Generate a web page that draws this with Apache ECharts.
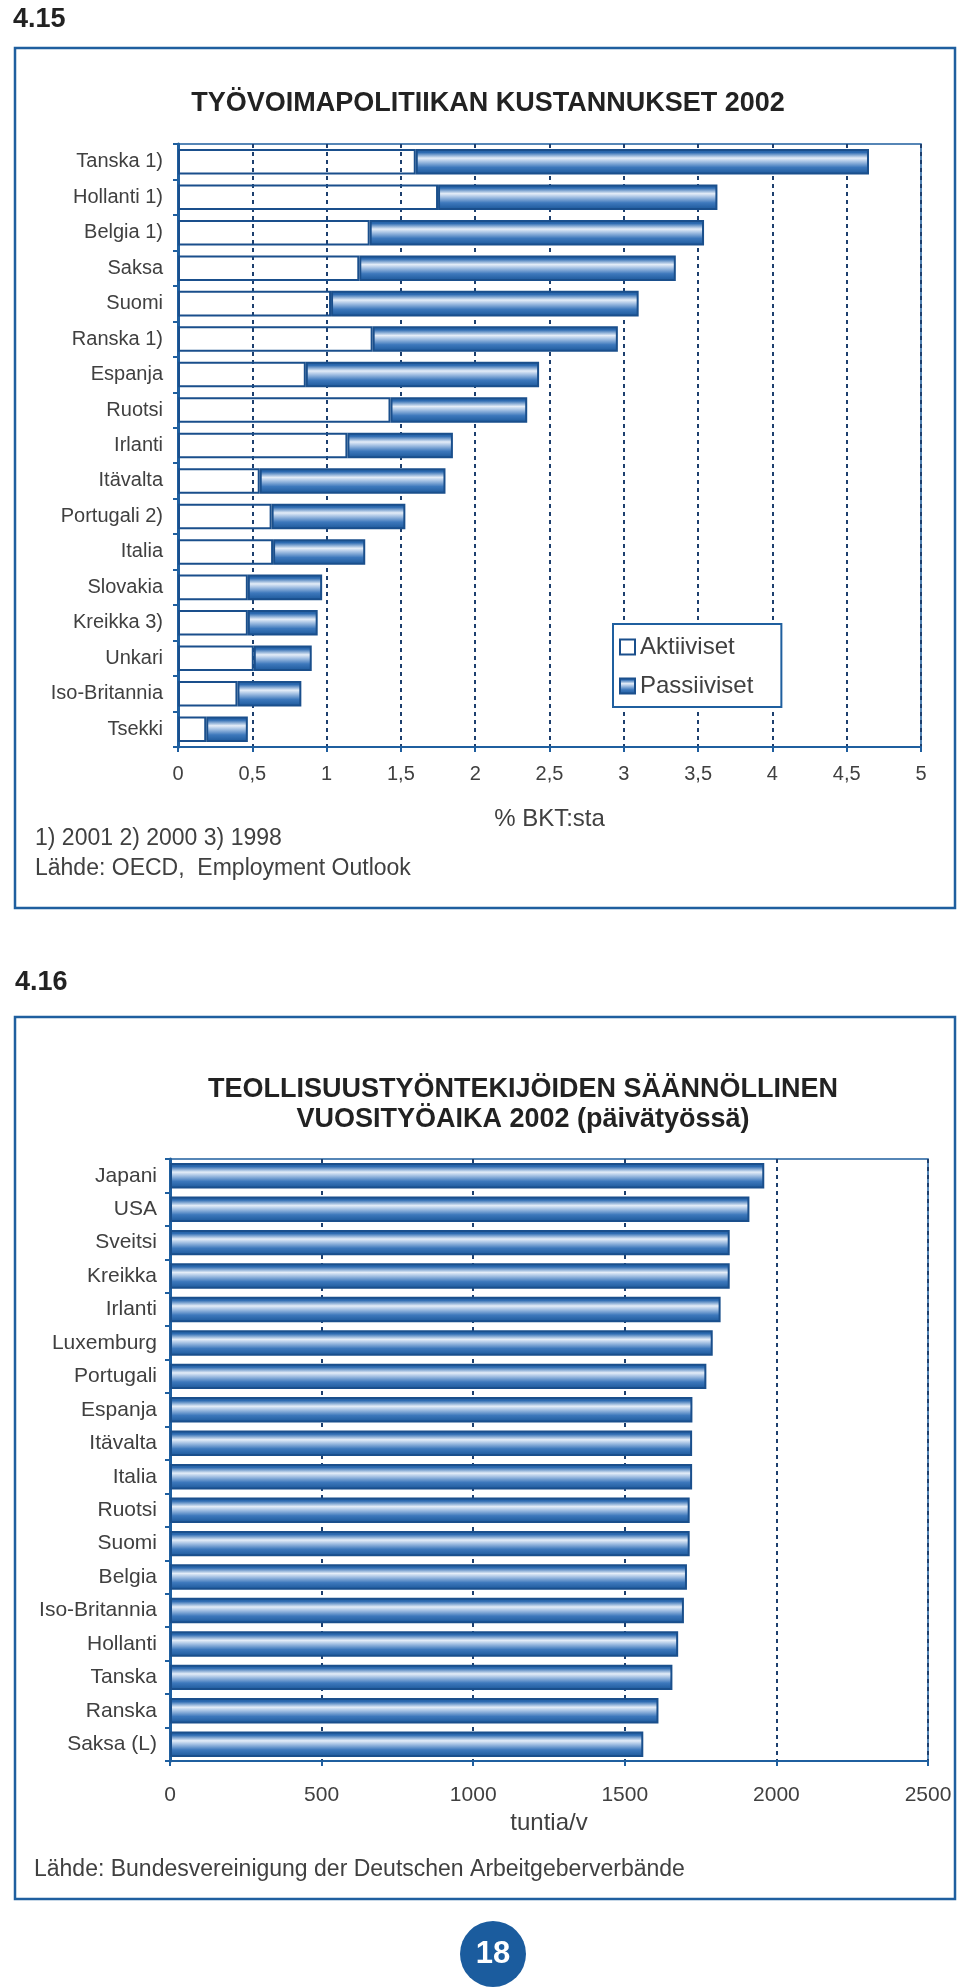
<!DOCTYPE html>
<html>
<head>
<meta charset="utf-8">
<script src="https://cdn.jsdelivr.net/npm/echarts@6/dist/echarts.min.js"></script>
<style>
html,body{margin:0;padding:0;background:#fff;}
#c{width:960px;height:1988px;}
</style>
</head>
<body>
<div id="c"></div>
<script>
// ---- Chart 4.15 data ----
const cats1 = ['Tanska 1)','Hollanti 1)','Belgia 1)','Saksa','Suomi','Ranska 1)','Espanja','Ruotsi','Irlanti','Itävalta','Portugali 2)','Italia','Slovakia','Kreikka 3)','Unkari','Iso-Britannia','Tsekki'];
const aktiiviset = [1.60,1.75,1.29,1.22,1.03,1.31,0.86,1.43,1.14,0.55,0.63,0.64,0.47,0.47,0.51,0.40,0.19];
const passiiviset = [3.05,1.88,2.25,2.13,2.07,1.65,1.57,0.92,0.71,1.25,0.90,0.62,0.50,0.47,0.39,0.43,0.28];
const ticks1 = ['0','0,5','1','1,5','2','2,5','3','3,5','4','4,5','5'];

// ---- Chart 4.16 data ----
const cats2 = ['Japani','USA','Sveitsi','Kreikka','Irlanti','Luxemburg','Portugali','Espanja','Itävalta','Italia','Ruotsi','Suomi','Belgia','Iso-Britannia','Hollanti','Tanska','Ranska','Saksa (L)'];
const tunnit = [1960,1911,1846,1846,1816,1790,1769,1723,1722,1722,1714,1714,1705,1695,1676,1657,1611,1561];
const ticks2 = ['0','500','1000','1500','2000','2500'];

const FONT = '"Liberation Sans", Arial, sans-serif';
const BLUE = '#1f5f9f';
const DARK = '#1a4f8c';
const GRIDC = '#1d3f6e';
const TXT = '#404040';

function barGrad(){
  return new echarts.graphic.LinearGradient(0,0,0,1,[
    {offset:0, color:'#1a5698'},
    {offset:0.14, color:'#2f6cb2'},
    {offset:0.36, color:'#e4edf8'},
    {offset:0.5, color:'#a3c0e3'},
    {offset:0.72, color:'#3d78bc'},
    {offset:1, color:'#1a5698'}
  ]);
}

const chart = echarts.init(document.getElementById('c'), null, {renderer:'canvas'});

const option = {
  animation:false,
  backgroundColor:'#fff',
  textStyle:{fontFamily:FONT},
  title:[
    {text:'4.15', left:8, top:1, textStyle:{fontFamily:FONT, fontSize:27, fontWeight:'bold', color:'#222'}},
    {text:'TYÖVOIMAPOLITIIKAN KUSTANNUKSET 2002', left:483, textAlign:'center', top:85, textStyle:{fontFamily:FONT, fontSize:27, fontWeight:'bold', color:'#222'}},
    {text:'4.16', left:10, top:964, textStyle:{fontFamily:FONT, fontSize:27, fontWeight:'bold', color:'#222'}},
    {text:'TEOLLISUUSTYÖNTEKIJÖIDEN SÄÄNNÖLLINEN\nVUOSITYÖAIKA 2002 (päivätyössä)', left:518, textAlign:'center', top:1070, textStyle:{fontFamily:FONT, fontSize:27, fontWeight:'bold', color:'#222', lineHeight:30, align:'center'}}
  ],
  legend:{
    data:[{name:'Aktiiviset', icon:'rect'},{name:'Passiiviset', icon:'rect'}],
    orient:'vertical',
    left:613, top:624,
    backgroundColor:'#fff',
    borderColor:BLUE, borderWidth:2,
    padding:[11,28,9,6],
    itemWidth:15, itemHeight:15, itemGap:15,
    textStyle:{fontFamily:FONT, fontSize:24, color:TXT}
  },
  grid:[
    {left:178, top:144, width:743, height:603, show:true, borderColor:BLUE, borderWidth:1.5, backgroundColor:'transparent'},
    {left:170, top:1159, width:758, height:602, show:true, borderColor:BLUE, borderWidth:1.5, backgroundColor:'transparent'}
  ],
  xAxis:[
    {type:'value', gridIndex:0, min:0, max:5, interval:0.5,
      name:'% BKT:sta', nameLocation:'middle', nameGap:60,
      nameTextStyle:{fontFamily:FONT, fontSize:24, color:TXT},
      axisLine:{show:true, lineStyle:{color:BLUE, width:2}},
      axisTick:{show:true, inside:false, length:5, lineStyle:{color:BLUE, width:2}},
      axisLabel:{margin:17, fontFamily:FONT, fontSize:20, color:TXT, formatter:(v)=>ticks1[Math.round(v/0.5)]},
      splitLine:{show:true, lineStyle:{color:GRIDC, width:2, type:[4,4]}}
    },
    {type:'value', gridIndex:1, min:0, max:2500, interval:500,
      name:'tuntia/v', nameLocation:'middle', nameGap:50,
      nameTextStyle:{fontFamily:FONT, fontSize:24, color:TXT},
      axisLine:{show:true, lineStyle:{color:BLUE, width:2}},
      axisTick:{show:true, inside:false, length:5, lineStyle:{color:BLUE, width:2}},
      axisLabel:{margin:24, fontFamily:FONT, fontSize:21, color:TXT, formatter:(v)=>ticks2[Math.round(v/500)]},
      splitLine:{show:true, lineStyle:{color:GRIDC, width:2, type:[4,4]}}
    }
  ],
  yAxis:[
    {type:'category', gridIndex:0, data:cats1, inverse:true,
      axisLine:{show:true, lineStyle:{color:BLUE, width:3}},
      axisTick:{show:true, inside:false, length:5, lineStyle:{color:BLUE, width:2}},
      axisLabel:{margin:15, fontFamily:FONT, fontSize:20, color:TXT}
    },
    {type:'category', gridIndex:1, data:cats2, inverse:true,
      axisLine:{show:true, lineStyle:{color:BLUE, width:3}},
      axisTick:{show:true, inside:false, length:5, lineStyle:{color:BLUE, width:2}},
      axisLabel:{margin:13, fontFamily:FONT, fontSize:21, color:TXT}
    }
  ],
  series:[
    {name:'Aktiiviset', type:'bar', stack:'k', xAxisIndex:0, yAxisIndex:0, data:aktiiviset, barWidth:'72%',
      itemStyle:{color:'rgba(255,255,255,0)', borderColor:DARK, borderWidth:2}},
    {name:'Passiiviset', type:'bar', stack:'k', xAxisIndex:0, yAxisIndex:0, data:passiiviset, barWidth:'72%',
      itemStyle:{color:barGrad(), borderColor:DARK, borderWidth:2}},
    {name:'Tunnit', type:'bar', xAxisIndex:1, yAxisIndex:1, data:tunnit, barWidth:'76%',
      itemStyle:{color:barGrad(), borderColor:DARK, borderWidth:2}}
  ],
  graphic:[
    {type:'rect', shape:{x:15, y:48, width:940, height:860}, style:{fill:null, stroke:BLUE, lineWidth:2.5}, silent:true},
    {type:'rect', shape:{x:15, y:1017, width:940, height:882}, style:{fill:null, stroke:BLUE, lineWidth:2.5}, silent:true},
    {type:'text', left:35, top:827, style:{text:'1) 2001 2) 2000 3) 1998', font:'23px "Liberation Sans", Arial, sans-serif', fill:TXT}},
    {type:'text', left:35, top:857, style:{text:'Lähde: OECD,  Employment Outlook', font:'23px "Liberation Sans", Arial, sans-serif', fill:TXT}},
    {type:'text', left:34, top:1858, style:{text:'Lähde: Bundesvereinigung der Deutschen Arbeitgeberverbände', font:'23px "Liberation Sans", Arial, sans-serif', fill:TXT}},
    {type:'circle', shape:{cx:493, cy:1954, r:33}, style:{fill:'#1b5c9e'}},
    {type:'text', x:493, y:1954, style:{text:'18', font:'bold 31px "Liberation Sans", Arial, sans-serif', fill:'#fff', align:'center', verticalAlign:'middle'}}
  ]
};
chart.setOption(option);
</script>
</body>
</html>
